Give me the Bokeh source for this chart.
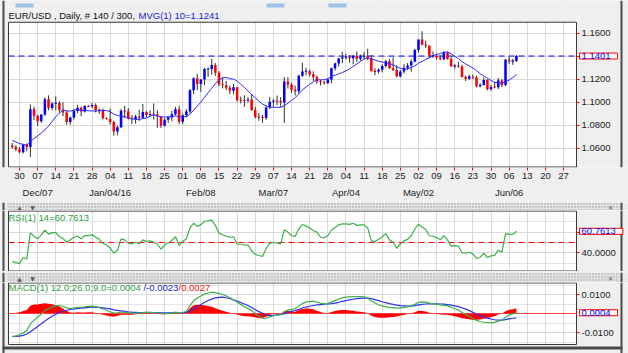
from bokeh.plotting import figure
from bokeh.layouts import column
from bokeh.models import (LinearAxis, FixedTicker, Grid, Label,
                          NumeralTickFormatter, Range1d, ColumnDataSource)
from bokeh.core.properties import value
from bokeh.embed import file_html
from bokeh.resources import INLINE

FONT = "Liberation Sans"
FS = "9.5px"

# ---------------- data ----------------
bars = list(range(-2, 138))   # trading-day index, 0 = Mon 30 Nov 2015

opens = [
    1.0625, 1.0612,
    1.0593, 1.0565, 1.0632, 1.0612, 1.0940,
    1.0882, 1.0836, 1.0894, 1.1025, 1.0950,
    1.0990, 1.0993, 1.0933, 1.0912, 1.0829,
    1.0867, 1.0924, 1.0952, 1.0919, 1.0967,
    1.0965, 1.0975, 1.0930, 1.0931, 1.0860,
    1.0855, 1.0829, 1.0747, 1.0784, 1.0926,
    1.0921, 1.0857, 1.0855, 1.0876, 1.0865,
    1.0915, 1.0890, 1.0899, 1.0893, 1.0876,
    1.0797, 1.0848, 1.0869, 1.0895, 1.0939,
    1.0830, 1.0887, 1.0919, 1.1103, 1.1209,
    1.1159, 1.1197, 1.1288, 1.1289, 1.1323,
    1.1255, 1.1157, 1.1147, 1.1125, 1.1100,
    1.1130, 1.1020, 1.1016, 1.1015, 1.1024,
    1.0933, 1.0872, 1.0870, 1.0864, 1.0955,
    1.1004, 1.1012, 1.1011, 1.0997, 1.1179,
    1.1153, 1.1108, 1.1096, 1.1229, 1.1267,
    1.1270, 1.1244, 1.1220, 1.1180, 1.1174,
    1.1165, 1.1197, 1.1294, 1.1336, 1.1379,
    1.1390, 1.1393, 1.1382, 1.1403, 1.1378,
    1.1395, 1.1403, 1.1384, 1.1270, 1.1266,
    1.1282, 1.1315, 1.1356, 1.1295, 1.1280,
    1.1225, 1.1266, 1.1300, 1.1319, 1.1354,
    1.1454, 1.1544, 1.1499, 1.1490, 1.1403,
    1.1404, 1.1386, 1.1374, 1.1428, 1.1375,
    1.1312, 1.1319, 1.1310, 1.1220, 1.1204,
    1.1224, 1.1214, 1.1139, 1.1150, 1.1193,
    1.1113, 1.1133, 1.1130, 1.1188, 1.1150,
    1.1369, 1.1355, 1.1359,
]

highs = [
    1.0645, 1.0630,
    1.0610, 1.0640, 1.0640, 1.0981, 1.0960,
    1.0890, 1.0896, 1.1043, 1.1060, 1.1000,
    1.1050, 1.1010, 1.1000, 1.0925, 1.0875,
    1.0940, 1.0978, 1.0962, 1.0975, 1.0975,
    1.0993, 1.0990, 1.0945, 1.0945, 1.0870,
    1.0945, 1.0840, 1.0798, 1.0941, 1.0970,
    1.0950, 1.0890, 1.0892, 1.0935, 1.0985,
    1.0925, 1.0930, 1.0990, 1.0930, 1.0880,
    1.0860, 1.0880, 1.0925, 1.0960, 1.0970,
    1.0902, 1.0940, 1.1115, 1.1216, 1.1245,
    1.1200, 1.1297, 1.1300, 1.1376, 1.1340,
    1.1270, 1.1210, 1.1185, 1.1145, 1.1160,
    1.1135, 1.1050, 1.1060, 1.1045, 1.1070,
    1.0960, 1.0905, 1.0890, 1.0964, 1.1045,
    1.1030, 1.1058, 1.1045, 1.1218, 1.1217,
    1.1170, 1.1145, 1.1241, 1.1342, 1.1300,
    1.1285, 1.1268, 1.1230, 1.1195, 1.1185,
    1.1205, 1.1300, 1.1345, 1.1385, 1.1438,
    1.1420, 1.1410, 1.1410, 1.1440, 1.1415,
    1.1435, 1.1465, 1.1410, 1.1295, 1.1295,
    1.1330, 1.1370, 1.1375, 1.1390, 1.1320,
    1.1280, 1.1330, 1.1340, 1.1370, 1.1465,
    1.1545, 1.1616, 1.1535, 1.1495, 1.1440,
    1.1420, 1.1405, 1.1445, 1.1440, 1.1395,
    1.1330, 1.1350, 1.1325, 1.1230, 1.1240,
    1.1240, 1.1230, 1.1165, 1.1215, 1.1200,
    1.1150, 1.1175, 1.1210, 1.1200, 1.1375,
    1.1395, 1.1375, 1.1410,
]

lows = [
    1.0598, 1.0575,
    1.0558, 1.0555, 1.0575, 1.0524, 1.0846,
    1.0796, 1.0820, 1.0880, 1.0930, 1.0930,
    1.0930, 1.0910, 1.0880, 1.0805, 1.0804,
    1.0850, 1.0905, 1.0880, 1.0910, 1.0958,
    1.0950, 1.0912, 1.0900, 1.0850, 1.0850,
    1.0805, 1.0710, 1.0713, 1.0775, 1.0860,
    1.0850, 1.0810, 1.0815, 1.0838, 1.0860,
    1.0870, 1.0870, 1.0850, 1.0779, 1.0778,
    1.0790, 1.0820, 1.0835, 1.0885, 1.0810,
    1.0810, 1.0870, 1.0905, 1.1070, 1.1105,
    1.1090, 1.1150, 1.1220, 1.1240, 1.1230,
    1.1140, 1.1120, 1.1105, 1.1070, 1.1070,
    1.1005, 1.0990, 1.0960, 1.0995, 1.0925,
    1.0860, 1.0840, 1.0822, 1.0848, 1.0940,
    1.0960, 1.0975, 1.0960, 1.0822, 1.1120,
    1.1080, 1.1058, 1.1075, 1.1220, 1.1235,
    1.1225, 1.1185, 1.1160, 1.1145, 1.1155,
    1.1160, 1.1165, 1.1275, 1.1310, 1.1340,
    1.1370, 1.1345, 1.1330, 1.1350, 1.1360,
    1.1375, 1.1365, 1.1270, 1.1235, 1.1250,
    1.1260, 1.1300, 1.1290, 1.1270, 1.1215,
    1.1215, 1.1250, 1.1280, 1.1265, 1.1345,
    1.1430, 1.1495, 1.1470, 1.1385, 1.1385,
    1.1370, 1.1365, 1.1365, 1.1370, 1.1305,
    1.1290, 1.1300, 1.1215, 1.1185, 1.1195,
    1.1200, 1.1130, 1.1130, 1.1145, 1.1105,
    1.1100, 1.1120, 1.1115, 1.1130, 1.1140,
    1.1330, 1.1325, 1.1350,
]

closes = [
    1.0612, 1.0593,
    1.0565, 1.0632, 1.0612, 1.0940, 1.0882,
    1.0836, 1.0894, 1.1025, 1.0950, 1.0990,
    1.0993, 1.0933, 1.0912, 1.0829, 1.0867,
    1.0924, 1.0952, 1.0919, 1.0967, 1.0965,
    1.0975, 1.0930, 1.0931, 1.0860, 1.0855,
    1.0829, 1.0747, 1.0784, 1.0926, 1.0921,
    1.0857, 1.0855, 1.0876, 1.0865, 1.0915,
    1.0890, 1.0899, 1.0893, 1.0876, 1.0797,
    1.0848, 1.0869, 1.0895, 1.0939, 1.0830,
    1.0887, 1.0919, 1.1103, 1.1209, 1.1159,
    1.1197, 1.1288, 1.1289, 1.1323, 1.1255,
    1.1157, 1.1147, 1.1125, 1.1100, 1.1130,
    1.1020, 1.1016, 1.1015, 1.1024, 1.0933,
    1.0872, 1.0870, 1.0864, 1.0955, 1.1004,
    1.1012, 1.1011, 1.0997, 1.1179, 1.1153,
    1.1108, 1.1096, 1.1229, 1.1267, 1.1270,
    1.1244, 1.1220, 1.1180, 1.1174, 1.1165,
    1.1197, 1.1294, 1.1336, 1.1379, 1.1390,
    1.1393, 1.1382, 1.1403, 1.1378, 1.1395,
    1.1403, 1.1384, 1.1270, 1.1266, 1.1282,
    1.1315, 1.1356, 1.1295, 1.1280, 1.1225,
    1.1266, 1.1300, 1.1319, 1.1354, 1.1454,
    1.1544, 1.1499, 1.1490, 1.1403, 1.1404,
    1.1386, 1.1374, 1.1428, 1.1375, 1.1312,
    1.1319, 1.1310, 1.1220, 1.1204, 1.1224,
    1.1214, 1.1139, 1.1150, 1.1193, 1.1113,
    1.1133, 1.1130, 1.1188, 1.1150, 1.1369,
    1.1355, 1.1359, 1.1401,
]

# first values of the 10-day moving average (earlier closes are off-screen)
ma_head = [1.0668, 1.0655, 1.0642, 1.0633, 1.0628, 1.0660, 1.0685, 1.0708, 1.0732]
ma_period = 10

rsi = [
    31.5, 30.5, 29.5, 35.5, 34.0, 59.3, 56.0, 53.5, 57.4, 62.0,
    58.0, 59.5, 59.5, 55.5, 54.0, 50.2, 52.5, 55.0, 56.0, 53.5,
    56.7, 56.5, 57.6, 55.0, 53.0, 49.0, 47.5, 44.5, 39.6, 42.5,
    53.5, 52.5, 49.3, 48.7, 50.2, 48.7, 52.5, 51.0, 51.5, 50.2,
    48.5, 43.4, 47.5, 49.5, 51.9, 55.7, 47.0, 51.0, 53.5, 64.0,
    68.5, 65.5, 67.0, 70.5, 70.8, 71.5, 66.5, 59.0, 57.5, 56.0,
    55.0, 55.5, 48.7, 48.0, 47.7, 47.5, 42.0, 38.5, 37.4, 36.5,
    44.0, 49.0, 50.2, 49.3, 48.7, 62.2, 60.0, 56.5, 55.8, 63.2,
    67.3, 66.0, 64.0, 61.5, 60.0, 55.0, 54.5, 56.5, 62.0, 64.5,
    67.0, 68.0, 68.0, 67.5, 68.6, 66.5, 67.0, 67.0, 64.0, 51.5,
    51.0, 53.0, 55.5, 58.5, 52.5, 50.5, 44.4, 48.5, 51.5, 53.0,
    56.5, 63.0, 67.6, 65.0, 62.5, 56.5, 56.0, 54.7, 52.5, 56.7,
    52.5, 46.5, 47.0, 46.5, 40.0, 39.6, 40.5, 39.0, 34.5, 35.5,
    39.6, 35.4, 37.0, 37.5, 42.5, 40.5, 58.5, 58.0, 57.8, 60.7613,
]

macd = [
    -0.0120, -0.0118, -0.0112, -0.0102, -0.0090, -0.0055, -0.0035, -0.0020, -0.0003, 0.0015,
    0.0025, 0.0035, 0.0040, 0.0042, 0.0038, 0.0030, 0.0026, 0.0028, 0.0032, 0.0033,
    0.0035, 0.0038, 0.0039, 0.0036, 0.0031, 0.0024, 0.0016, 0.0009, 0.0002, 0.0004,
    0.0008, 0.0006, 0.0003, 0.0000, 0.0002, 0.0002, 0.0005, 0.0007, 0.0006, 0.0005,
    0.0004, 0.0000, -0.0001, 0.0000, 0.0002, 0.0007, 0.0003, 0.0005, 0.0012, 0.0040,
    0.0068, 0.0082, 0.0092, 0.0102, 0.0108, 0.0112, 0.0110, 0.0106, 0.0100, 0.0092,
    0.0083, 0.0072, 0.0060, 0.0048, 0.0036, 0.0028, 0.0015, 0.0000, -0.0015, -0.0024,
    -0.0025, -0.0018, -0.0012, -0.0008, -0.0006, 0.0010, 0.0018, 0.0022, 0.0025, 0.0040,
    0.0053, 0.0060, 0.0063, 0.0065, 0.0060, 0.0055, 0.0051, 0.0052, 0.0060, 0.0068,
    0.0076, 0.0082, 0.0086, 0.0088, 0.0089, 0.0089, 0.0089, 0.0088, 0.0082, 0.0066,
    0.0055, 0.0046, 0.0040, 0.0035, 0.0032, 0.0030, 0.0028, 0.0030, 0.0032, 0.0036,
    0.0040, 0.0048, 0.0059, 0.0061, 0.0060, 0.0055, 0.0051, 0.0048, 0.0045, 0.0043,
    0.0040, 0.0033, 0.0025, 0.0018, 0.0005, -0.0005, -0.0015, -0.0028, -0.0036, -0.0042,
    -0.0046, -0.0048, -0.0049, -0.0047, -0.0040, -0.0035, -0.0020, -0.0008, -0.0002, 0.0004,
]

signal = [
    -0.0121, -0.0121, -0.0119, -0.0115, -0.0108, -0.0096, -0.0083, -0.0068, -0.0054, -0.0039,
    -0.0026, -0.0014, -0.0004, 0.0005, 0.0012, 0.0017, 0.0021, 0.0024, 0.0026, 0.0028,
    0.0030, 0.0032, 0.0033, 0.0033, 0.0032, 0.0030, 0.0027, 0.0024, 0.0019, 0.0016,
    0.0014, 0.0012, 0.0009, 0.0007, 0.0006, 0.0005, 0.0005, 0.0005, 0.0005, 0.0005,
    0.0005, 0.0004, 0.0003, 0.0003, 0.0003, 0.0004, 0.0004, 0.0004, 0.0006, 0.0013,
    0.0024, 0.0036, 0.0047, 0.0058, 0.0068, 0.0076, 0.0082, 0.0085, 0.0086, 0.0083,
    0.0079, 0.0072, 0.0065, 0.0058, 0.0050, 0.0042, 0.0032, 0.0020, 0.0010, 0.0001,
    -0.0008, -0.0011, -0.0010, -0.0007, -0.0005, -0.0002, 0.0005, 0.0011, 0.0016, 0.0022,
    0.0029, 0.0034, 0.0038, 0.0042, 0.0045, 0.0047, 0.0049, 0.0050, 0.0052, 0.0055,
    0.0059, 0.0064, 0.0068, 0.0072, 0.0075, 0.0078, 0.0080, 0.0081, 0.0081, 0.0078,
    0.0073, 0.0068, 0.0062, 0.0057, 0.0052, 0.0048, 0.0044, 0.0041, 0.0040, 0.0039,
    0.0039, 0.0041, 0.0045, 0.0048, 0.0050, 0.0051, 0.0051, 0.0051, 0.0050, 0.0049,
    0.0047, 0.0044, 0.0040, 0.0036, 0.0030, 0.0023, 0.0015, 0.0006, -0.0003, -0.0011,
    -0.0018, -0.0024, -0.0029, -0.0033, -0.0035, -0.0035, -0.0032, -0.0028, -0.0025, -0.0023,
]

week_ticks = list(range(0, 151, 5))
week_labels = ["30", "07", "14", "21", "28", "04", "11", "18", "25", "01", "08",
               "15", "22", "29", "07", "14", "21", "28", "04", "11", "18", "25",
               "02", "09", "16", "23", "30", "06", "13", "20", "27"]
month_ticks = [5, 25, 50, 70, 90, 110, 135]
month_labels = ["Dec/07", "Jan/04/16", "Feb/08", "Mar/07", "Apr/04", "May/02", "Jun/06"]
price_ticks = [1.06, 1.08, 1.10, 1.12, 1.14, 1.16]
rsi_ticks = [40, 60]
rsi_level = 50
macd_ticks = [-0.01, 0.01]

title_main = "EUR/USD , Daily, # 140 / 300,"
title_ma = "MVG(1) 10=1.1241"
last_price = closes[-1]

# ---------------- derived ----------------
ma = []
for k in range(len(closes)):
    if k < len(ma_head):
        ma.append(ma_head[k])
    else:
        ma.append(sum(closes[k - ma_period + 1:k + 1]) / ma_period)

body_lo, body_hi, body_col = [], [], []
for o, c in zip(opens, closes):
    lo, hi = min(o, c), max(o, c)
    if hi - lo < 0.0009:
        mid = (lo + hi) / 2
        lo, hi = mid - 0.00045, mid + 0.00045
    body_lo.append(lo)
    body_hi.append(hi)
    body_col.append("#0000ff" if c > o else ("#ff0000" if c < o else "#202020"))

hist = [mv - sv for mv, sv in zip(macd, signal)]

src = ColumnDataSource(dict(x=bars, o=opens, h=highs, l=lows, c=closes,
                            lo=body_lo, hi=body_hi, col=body_col, ma=ma,
                            rsi=rsi, macd=macd, sig=signal, hist=hist))

# ---------------- geometry (screen layout) ----------------
W = 628
BPX = 3.627                      # pixels per bar
XL = -19 / BPX                   # data x at canvas left
XR = XL + W / BPX                # data x at canvas right
X0 = XL + 8 / BPX                # plot area left
X1 = XL + 576 / BPX              # plot area right

BG = "#efefef"
GRID = "#d9d9d9"
FRAME = "#3a3a3a"
DARK = "#4a4a4a"


def xpx(px):
    return XL + px / BPX


def make_fig(h, yb, yt, bottom=0):
    f = figure(width=W, height=h, x_range=Range1d(XL, XR), y_range=Range1d(yb, yt),
               output_backend="svg", toolbar_location=None,
               x_axis_location=None, y_axis_location=None,
               min_border_left=0, min_border_right=0,
               min_border_top=0, min_border_bottom=bottom)
    f.background_fill_color = "white"
    f.border_fill_color = BG
    f.outline_line_color = None
    return f


def decorate(f, ticks, pb, pt, yb, yt):
    # grids
    f.add_layout(Grid(dimension=0, ticker=FixedTicker(ticks=week_ticks),
                      grid_line_color=GRID, grid_line_width=1))
    f.add_layout(Grid(dimension=1, ticker=FixedTicker(ticks=ticks),
                      grid_line_color=GRID, grid_line_width=1))
    # grey surroundings of the plot area
    f.quad(left=[XL, X1, X0, X0], right=[X0, XR, X1, X1],
           bottom=[yb, yb, pt, yb], top=[yt, yt, yt, pb],
           fill_color=BG, line_color=None)
    # window edges
    f.quad(left=[xpx(2), xpx(620)], right=[xpx(4), xpx(622)],
           bottom=[yb, yb], top=[yt, yt], fill_color=DARK, line_color=None)
    # plot frame
    f.quad(left=[X0], right=[X1], bottom=[pb], top=[pt], fill_color=None,
           line_color=FRAME, line_width=1)
    ax = LinearAxis(ticker=FixedTicker(ticks=ticks), fixed_location=X1,
                    formatter=NumeralTickFormatter(format="0.0000"),
                    axis_line_color=None, major_tick_line_color="#ff0000",
                    major_tick_out=3, major_tick_in=0, minor_tick_line_color=None,
                    major_label_standoff=2, major_label_text_font=FONT,
                    major_label_text_font_size=FS, major_label_text_color="#222222")
    f.add_layout(ax, "right")


def value_box(f, y, txt):
    f.add_layout(Label(x=X1, y=y, x_offset=3, text=txt, text_baseline="middle",
                       text_align="left", text_font=FONT, text_font_size=FS,
                       text_color="#0000ff", background_fill_color="white",
                       border_line_color="#ff0000", border_line_width=1,
                       padding=dict(left=2, right=7, top=0, bottom=0)))


def ref_line(f, y, color, dash):
    f.segment(x0=[X0], x1=[X1], y0=[y], y1=[y], line_color=color,
              line_dash=dash, line_width=1)


# ---------------- main price panel (canvas y 0..200, frame y 0..169) ----------------
PPX = 1166.0                          # pixels per price unit
M_YT = 1.16 + 33 / PPX
M_YB = M_YT - 169 / PPX
M_PT = M_YT - 22 / PPX                # plot top at y=22
M_PB = M_YT - 168.5 / PPX
p = make_fig(200, M_YB, M_YT, bottom=31)
decorate(p, price_ticks, M_PB, M_PT, M_YB, M_YT)

# little tab marks of the window strip above the chart
p.quad(left=[xpx(15), xpx(266), xpx(328)], right=[xpx(33), xpx(284), xpx(346)],
       bottom=[M_YT - 7 / PPX] * 3, top=[M_YT - 3 / PPX] * 3,
       fill_color="#9cc2ea", line_color=None)

ax_w = LinearAxis(ticker=FixedTicker(ticks=week_ticks),
                  major_label_overrides={t: s for t, s in zip(week_ticks, week_labels)},
                  axis_line_color=None, major_tick_line_color="#ff0000",
                  major_tick_out=3, major_tick_in=0, minor_tick_line_color=None,
                  major_label_standoff=2, major_label_text_font=FONT,
                  major_label_text_font_size=FS, major_label_text_color="#222222")
ax_m = LinearAxis(ticker=FixedTicker(ticks=month_ticks),
                  major_label_overrides={t: s for t, s in zip(month_ticks, month_labels)},
                  axis_line_color=None, major_tick_line_color=None,
                  major_tick_out=0, major_tick_in=0, minor_tick_line_color=None,
                  major_label_standoff=5, major_label_text_font=FONT,
                  major_label_text_font_size=FS, major_label_text_color="#222222")
p.add_layout(ax_w, "below")
p.add_layout(ax_m, "below")

ref_line(p, last_price, "#0000ff", "6 4")
p.segment(x0="x", y0="l", x1="x", y1="h", source=src, line_color="#303030", line_width=1)
p.vbar(x="x", width=0.7, bottom="lo", top="hi", source=src,
       fill_color="col", line_color=None)
p.line(x="x", y="ma", source=src, line_color="#2b2bff", line_width=1)
value_box(p, last_price, f"{last_price:.4f}")

TITLE_Y = 1.16 + (33 - 15) / PPX
p.add_layout(Label(x=X0, y=TITLE_Y, text=title_main, text_baseline="middle",
                   text_font=FONT, text_font_size=FS, text_color="#111111"))
p.add_layout(Label(x=X0, y=TITLE_Y, x_offset=130, text=title_ma,
                   text_baseline="middle", text_font=FONT, text_font_size=FS,
                   text_color="#1a1acc"))


# ---------------- separators ----------------
def band(h):
    s = figure(width=W, height=h, x_range=Range1d(0, W), y_range=Range1d(0, h),
               output_backend="svg", toolbar_location=None, min_border=0,
               x_axis_location=None, y_axis_location=None)
    s.outline_line_color = None
    s.background_fill_color = BG
    s.border_fill_color = BG
    s.quad(left=[7], right=[619], bottom=[0.5], top=[h - 0.5], fill_color="#e4e4e4",
           line_color=None, hatch_pattern="dot", hatch_color="#9a9a9a",
           hatch_scale=3, hatch_weight=1)
    s.quad(left=[2, 620], right=[4, 622], bottom=[0, 0], top=[h, h],
           fill_color=DARK, line_color=None)
    s.text(x=[19, 32], y=[h / 2, h / 2], text=["▲", "▼"], text_font=value("DejaVu Sans"),
           text_font_size="6px", text_color="#5a5a5a", text_align="center",
           text_baseline="middle")
    s.text(x=[610], y=[h / 2], text=["✕"], text_font=value("DejaVu Sans"),
           text_font_size="6px", text_color="#5a5a5a", text_align="center",
           text_baseline="middle")
    return s


s1 = band(10)
s2 = band(11)

# ---------------- RSI panel (canvas y 210..271) ----------------
RPX = 1.035
R_YT = 60 + 21.6 / RPX
R_YB = R_YT - 61 / RPX
R_PT = R_YT - 0.5 / RPX
R_PB = R_YT - 60.5 / RPX
r = make_fig(61, R_YB, R_YT)
decorate(r, rsi_ticks, R_PB, R_PT, R_YB, R_YT)
ref_line(r, rsi_level, "#ff0000", "6 4")
r.line(x="x", y="rsi", source=src, line_color="#3cb04a", line_width=1.2)
value_box(r, rsi[-1], f"{rsi[-1]:.4f}")
r.add_layout(Label(x=X1, y=20, x_offset=5, text="20.0000", text_baseline="middle",
                   text_font=FONT, text_font_size=FS, text_color="#222222"))
r.add_layout(Label(x=X0, y=60 + (231.6 - 216.5) / RPX, text=f"RSI(1) 14={rsi[-1]:.4f}",
                   text_baseline="middle", text_font=FONT, text_font_size=FS,
                   text_color="#2e9e3e"))

# ---------------- MACD panel (canvas y 282..353, frame to 353) ----------------
KPX = 1900.0
K_YT = 31 / KPX
K_YB = K_YT - 71 / KPX
K_PT = K_YT - 0.5 / KPX
K_PB = K_YT - 62 / KPX
m = make_fig(71, K_YB, K_YT)
decorate(m, macd_ticks, K_PB, K_PT, K_YB, K_YT)
m.quad(left=[xpx(2)], right=[xpx(622)], bottom=[K_YT - 67 / KPX], top=[K_YT - 64 / KPX],
       fill_color=DARK, line_color=None)
m.varea(x="x", y1=0, y2="hist", source=src, fill_color="#ff0000")
ref_line(m, 0, "#ff4040", "solid")
m.line(x="x", y="sig", source=src, line_color="#3030ee", line_width=1.2)
m.line(x="x", y="macd", source=src, line_color="#3cb04a", line_width=1.2)
value_box(m, macd[-1], f"{macd[-1]:.4f}")
MT_Y = (313 - 287) / KPX
m.add_layout(Label(x=X0, y=MT_Y, text=f"MACD(1) 12.0;26.0;9.0={macd[-1]:.4f}",
                   text_baseline="middle", text_font=FONT, text_font_size=FS,
                   text_color="#2e9e3e"))
m.add_layout(Label(x=X0, y=MT_Y, x_offset=135, text=f"/{signal[-1]:.4f}",
                   text_baseline="middle", text_font=FONT, text_font_size=FS,
                   text_color="#1a1acc"))
m.add_layout(Label(x=X0, y=MT_Y, x_offset=170, text=f"/{hist[-1]:.4f}",
                   text_baseline="middle", text_font=FONT, text_font_size=FS,
                   text_color="#ee1111"))

layout = column(p, s1, r, s2, m, spacing=0)
layout.styles = {"background-color": BG}

open("out.html", "w").write(file_html(layout, INLINE))
